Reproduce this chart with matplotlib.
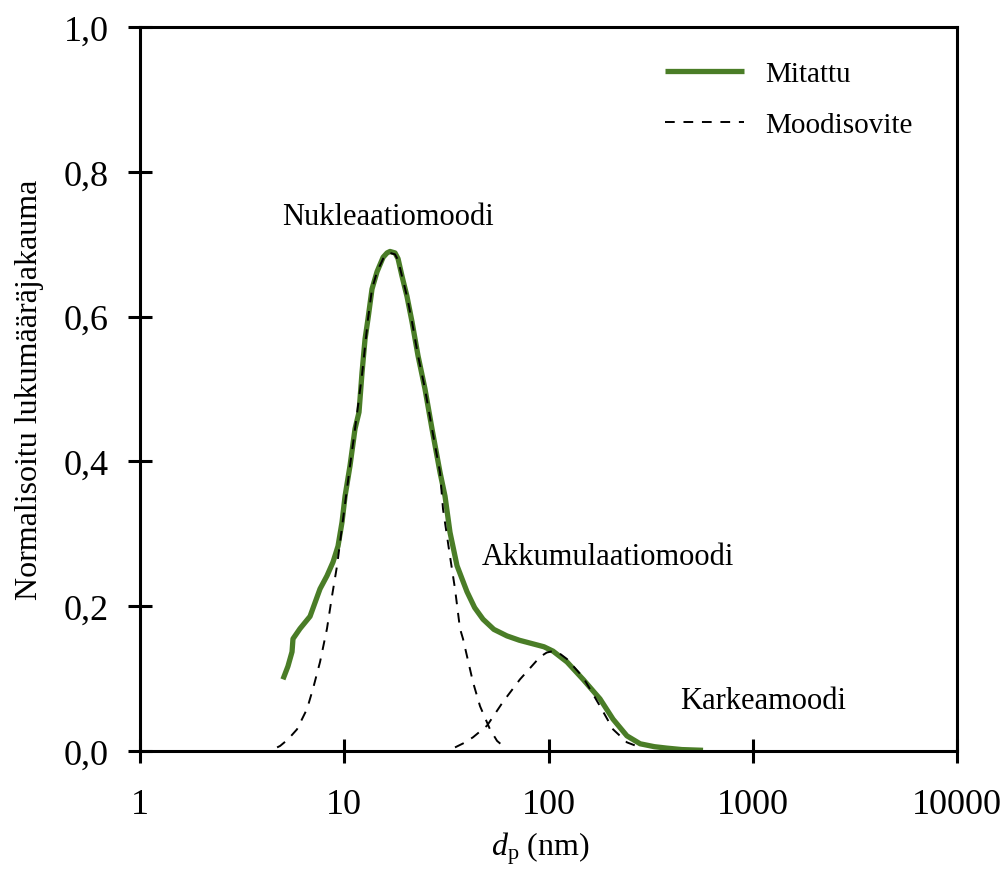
import matplotlib.pyplot as plt
from matplotlib.ticker import FixedLocator, FuncFormatter, NullLocator

plt.rcParams['font.family'] = ['Liberation Serif', 'DejaVu Serif']
plt.rcParams['mathtext.fontset'] = 'custom'
plt.rcParams['mathtext.rm'] = 'Liberation Serif'
plt.rcParams['mathtext.it'] = 'Liberation Serif:italic'

# measured size distribution (normalised number concentration)
dp_meas = [5.01, 5.30, 5.55, 5.61, 6.07, 6.80, 7.61, 8.23, 8.81, 9.32, 9.75,
           10.09, 10.67, 11.29, 11.81, 12.22, 12.64, 13.07, 13.67, 14.47,
           15.5, 16.2, 16.75, 17.72, 18.34, 19.17, 20.28, 21.46, 22.97, 24.85,
           26.89, 29.43, 31.14, 32.94, 35.65, 39.9, 43.5, 47.8, 54.0, 62.6,
           72.0, 84.0, 95.0, 105.2, 123.2, 147.6, 178.7, 207.0, 242.0, 281.0,
           330.0, 380.0, 450.0, 571.0]
n_meas = [0.099, 0.117, 0.137, 0.155, 0.169, 0.186, 0.224, 0.242, 0.261, 0.283,
          0.316, 0.352, 0.394, 0.445, 0.468, 0.523, 0.569, 0.597, 0.638, 0.662,
          0.682, 0.688, 0.690, 0.688, 0.680, 0.656, 0.628, 0.593, 0.546, 0.500,
          0.445, 0.385, 0.352, 0.302, 0.256, 0.220, 0.198, 0.182, 0.168, 0.159,
          0.153, 0.148, 0.144, 0.138, 0.123, 0.099, 0.072, 0.044, 0.021, 0.010,
          0.006, 0.004, 0.002, 0.001]

# fitted nucleation mode
dp_nucl = [4.69, 4.85, 5.3, 5.87, 6.57, 7.03, 7.61, 8.23, 8.71, 9.22, 9.86,
           10.67, 11.29, 12.22, 13.07, 13.67, 14.47, 15.5, 16.2, 16.75, 17.72,
           18.34, 19.17, 20.28, 21.46, 22.97, 24.85, 26.89, 29.43, 30.45,
           32.94, 34.85, 36.87, 38.14, 42.7, 46.2, 51.7, 56.0, 59.9, 62.6]
n_nucl = [0.005, 0.007, 0.016, 0.030, 0.058, 0.086, 0.123, 0.169, 0.214, 0.256,
          0.320, 0.394, 0.445, 0.520, 0.597, 0.638, 0.662, 0.680, 0.686, 0.688,
          0.686, 0.678, 0.656, 0.628, 0.593, 0.546, 0.500, 0.445, 0.385, 0.334,
          0.269, 0.224, 0.169, 0.155, 0.095, 0.062, 0.030, 0.014, 0.007, 0.005]

# fitted accumulation mode
dp_accu = [34.85, 38.5, 42.7, 50.0, 59.9, 72.5, 90.9, 98.0, 105.2, 113.0,
           123.2, 147.6, 178.7, 207.0, 242.0, 281.0]
n_accu = [0.005, 0.011, 0.019, 0.035, 0.068, 0.099, 0.130, 0.136, 0.138, 0.135,
          0.127, 0.102, 0.062, 0.030, 0.012, 0.005]

x_ticks = [1, 10, 100, 1000, 10000]
y_ticks = [0.0, 0.2, 0.4, 0.6, 0.8, 1.0]

green = '#4a7d27'

fig = plt.figure(figsize=(10.08, 8.7), dpi=100)
ax = fig.add_axes([0.1389, 0.1356, 0.8105, 0.8322])

ax.plot(dp_meas, n_meas, color=green, lw=3.8, solid_capstyle='butt',
        label='Mitattu', zorder=2)
ax.plot(dp_nucl, n_nucl, color='black', lw=1.4, ls=(0, (5, 4.5)),
        label='Moodisovite', zorder=3)
ax.plot(dp_accu, n_accu, color='black', lw=1.4, ls=(0, (5, 4.5)), zorder=3)

ax.set_xscale('log')
ax.set_xlim(1, 10000)
ax.set_ylim(0, 1.0)
ax.xaxis.set_major_locator(FixedLocator(x_ticks))
ax.xaxis.set_minor_locator(NullLocator())
ax.xaxis.set_major_formatter(FuncFormatter(lambda v, p: '%d' % v))
ax.yaxis.set_major_locator(FixedLocator(y_ticks))
ax.yaxis.set_major_formatter(FuncFormatter(lambda v, p: ('%.1f' % v).replace('.', ',')))

for s in ax.spines.values():
    s.set_linewidth(2.2)
ax.tick_params(direction='inout', length=17, width=2.2, labelsize=26,
               colors='black')
ax.tick_params(axis='x', pad=18)
ax.tick_params(axis='y', pad=14)

ax.set_xlabel(r'$d_{\mathrm{p}}$ (nm)', fontsize=23)
ax.xaxis.set_label_coords(0.49, -0.108)
ax.set_ylabel('Normalisoitu lukumääräjakauma', fontsize=23)
ax.yaxis.set_label_coords(-0.118, 0.5)

ax.text(16.4, 0.738, 'Nukleaatiomoodi', fontsize=22, ha='center', va='center')
ax.text(195, 0.268, 'Akkumulaatiomoodi', fontsize=22, ha='center', va='center')
ax.text(1120, 0.070, 'Karkeamoodi', fontsize=22, ha='center', va='center')

ax.legend(loc='upper right', bbox_to_anchor=(0.978, 0.99), frameon=False,
          fontsize=21, handlelength=2.7, handletextpad=0.75, labelspacing=0.85)

fig.savefig('out.png', dpi=100)
